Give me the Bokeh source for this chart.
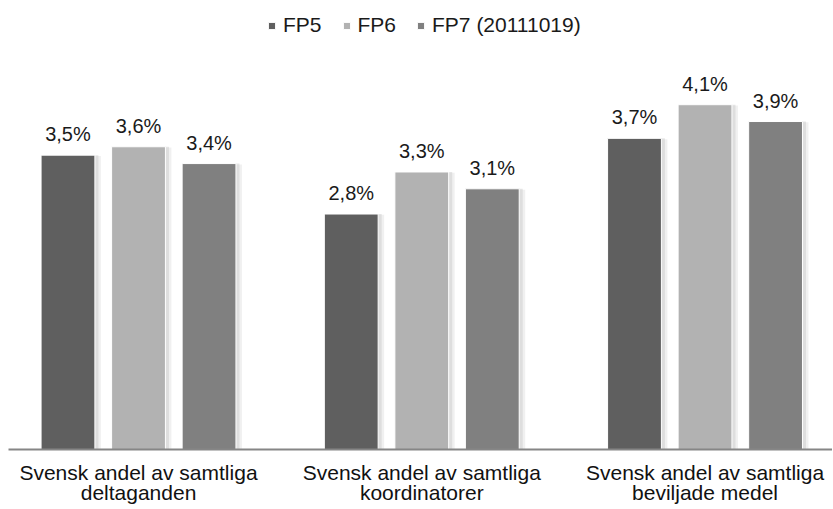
from bokeh.plotting import figure
from bokeh.models import Range1d, FixedTicker, Legend, LegendItem, ColumnDataSource
from bokeh.core.properties import value
from bokeh.embed import file_html
from bokeh.resources import INLINE

categories = ["Svensk andel av samtliga\ndeltaganden",
              "Svensk andel av samtliga\nkoordinatorer",
              "Svensk andel av samtliga\nbeviljade medel"]
series = ["FP5", "FP6", "FP7 (20111019)"]
fp5 = [3.5, 2.8, 3.7]
fp6 = [3.6, 3.3, 4.1]
fp7 = [3.4, 3.1, 3.9]
values = [fp5, fp6, fp7]
colors = ["#5f5f5f", "#b2b2b2", "#808080"]

FW, FH = 824, 441
p = figure(frame_width=FW, frame_height=FH, output_backend="svg", toolbar_location=None,
           x_range=Range1d(-0.459, 2.450), y_range=Range1d(0, 5.244),
           min_border_left=8, min_border_right=0, min_border_top=8,
           min_border_bottom=50)
p.outline_line_color = None
p.grid.visible = False
p.yaxis.visible = False
p.background_fill_color = "white"
p.border_fill_color = "white"

step = 0.249
bw = 0.19
px = 1 / 283.3
items = []
for k, (vals, col, name) in enumerate(zip(values, colors, series)):
    xs = [i + (k - 1) * step for i in range(len(categories))]
    src = ColumnDataSource(dict(x=xs, top=vals,
                                lab=[("%.1f%%" % v).replace(".", ",") for v in vals]))
    # soft shadow
    p.vbar(x=[x + 3 * px for x in xs], top=[v - 0.01 for v in vals], width=bw + 6 * px,
           fill_color="#cccccc", fill_alpha=0.3, line_color=None)
    p.vbar(x=[x + 2 * px for x in xs], top=vals, width=bw + 3 * px,
           fill_color="#c4c4c4", fill_alpha=0.4, line_color=None)
    r = p.vbar(x="x", top="top", width=bw, source=src, fill_color=col,
               line_color="white", line_width=1)
    items.append(LegendItem(label=name, renderers=[r]))
    p.text(x="x", y="top", text="lab", source=src, text_align="center",
           text_baseline="alphabetic", y_offset=-21,
           text_font=value("Liberation Sans"), text_font_size="20px",
           text_color="#1a1a1a")

ax = p.xaxis[0]
ax.ticker = FixedTicker(ticks=[0, 1, 2])
ax.major_label_overrides = {i: c for i, c in enumerate(categories)}
ax.major_tick_line_color = None
ax.minor_tick_line_color = None
ax.major_tick_out = 0
ax.major_tick_in = 0
ax.minor_tick_out = 0
ax.minor_tick_in = 0
ax.axis_line_color = "#868686"
ax.axis_line_width = 2
ax.major_label_standoff = 11
ax.major_label_text_font = "Liberation Sans"
ax.major_label_text_font_size = "21px"
ax.major_label_text_line_height = 0.87
ax.major_label_text_color = "#111111"

leg = Legend(items=items, orientation="horizontal", location=(259, 412),
             glyph_width=9, glyph_height=9, label_standoff=7, spacing=20,
             padding=0, margin=0, border_line_color=None,
             background_fill_alpha=0,
             label_text_font="Liberation Sans", label_text_font_size="21px",
             label_text_color="#1a1a1a")
p.add_layout(leg)

open("out.html", "w").write(file_html(p, INLINE))
